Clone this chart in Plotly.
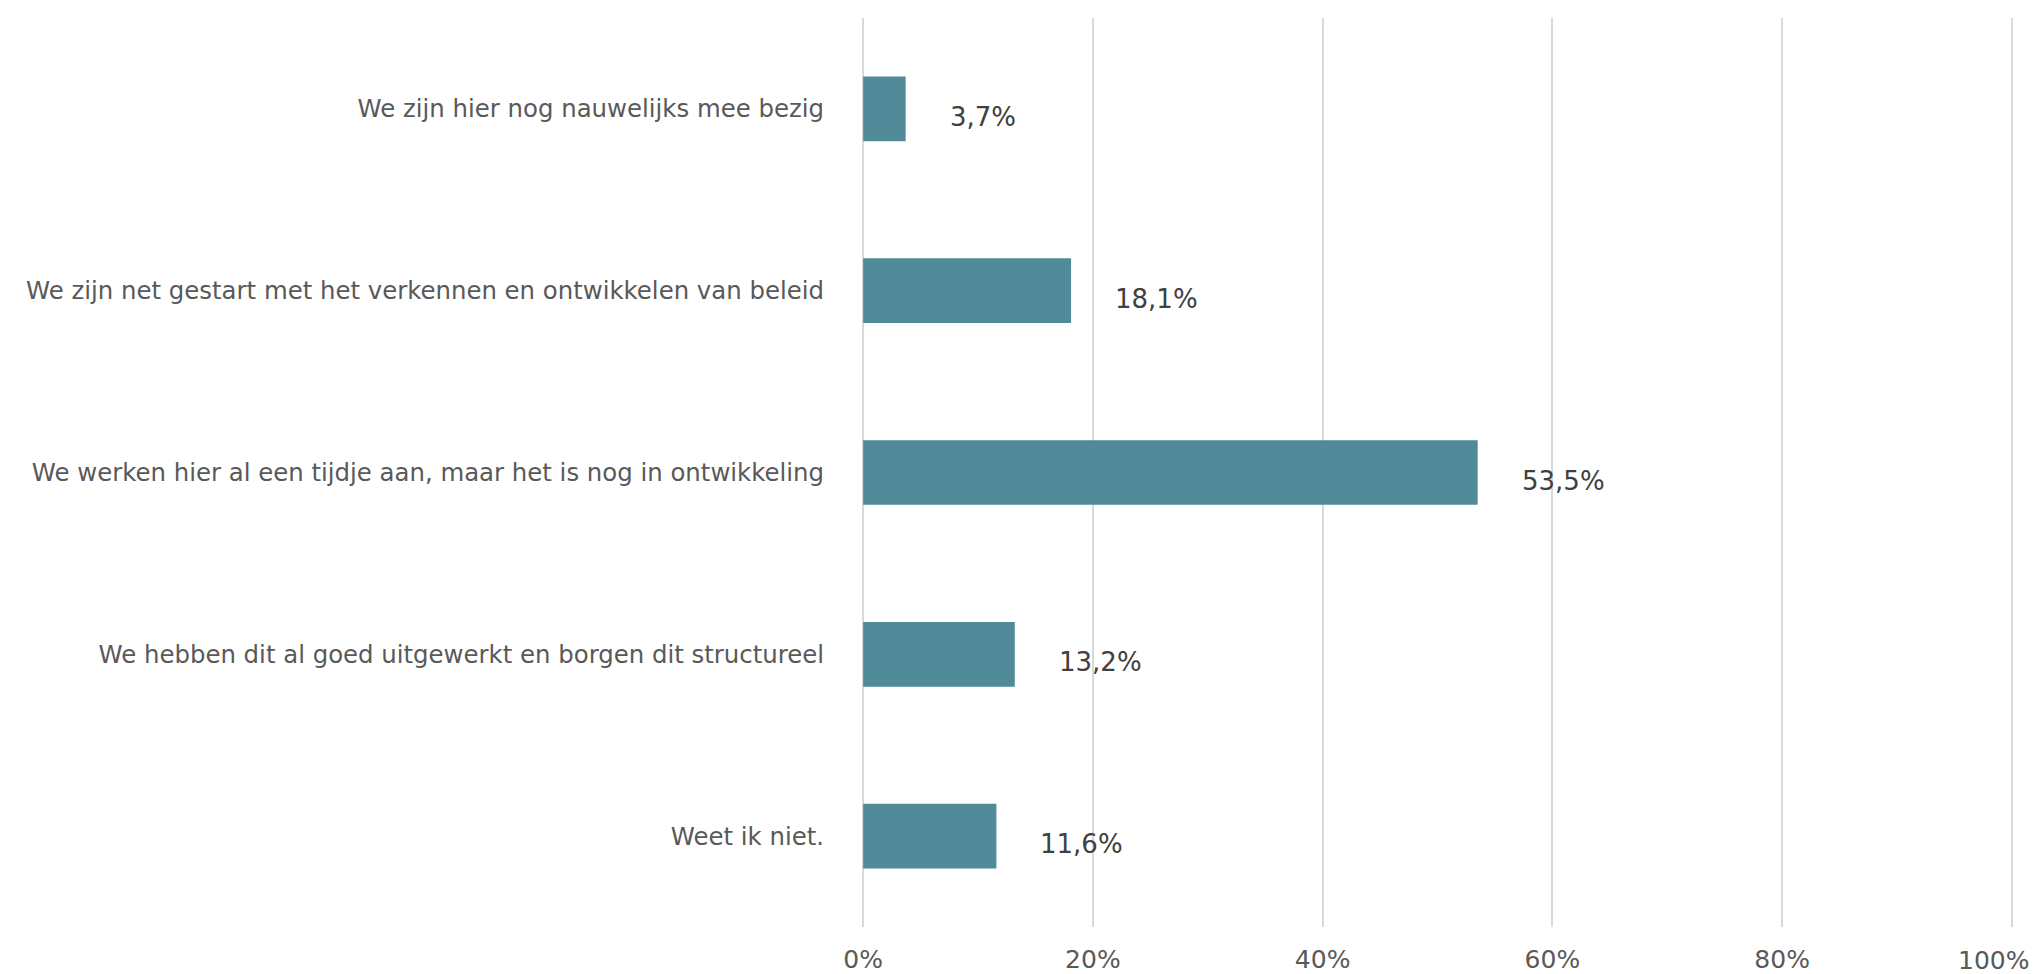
import plotly.graph_objects as go

# Survey answers (top to bottom) and their share of respondents, in percent
categories = [
    "We zijn hier nog nauwelijks mee bezig",
    "We zijn net gestart met het verkennen en ontwikkelen van beleid",
    "We werken hier al een tijdje aan, maar het is nog in ontwikkeling",
    "We hebben dit al goed uitgewerkt en borgen dit structureel",
    "Weet ik niet.",
]
shares = [3.7, 18.1, 53.5, 13.2, 11.6]

tick_values = [0, 20, 40, 60, 80, 100]
tick_labels = ["0%", "20%", "40%", "60%", "80%", "100%"]

FONT = "DejaVu Sans"
BAR_COLOR = "#518A99"
GRID_COLOR = "#D9D9D9"
TICK_FONT = dict(family=FONT, size=25, color="#595959")


def nl_percent(v):
    return f"{v:.1f}".replace(".", ",") + "%"


fig = go.Figure(
    go.Bar(
        x=shares,
        y=categories,
        orientation="h",
        width=0.356,
        marker=dict(color=BAR_COLOR, line=dict(width=0)),
        hoverinfo="skip",
    )
)

# value labels to the right of each bar
for cat, v in zip(categories, shares):
    fig.add_annotation(
        x=v,
        y=cat,
        text=nl_percent(v),
        showarrow=False,
        xanchor="left",
        yanchor="middle",
        xshift=42,
        yshift=-8,
        font=dict(family=FONT, size=26, color="#404040"),
    )

# the last tick label is pulled left so it stays inside the page
tick_text = tick_labels[:-1] + [""]
fig.add_annotation(
    x=tick_values[-1],
    y=0,
    xref="x",
    yref="paper",
    text=tick_labels[-1],
    showarrow=False,
    xanchor="center",
    yanchor="middle",
    xshift=-18,
    yshift=-33,
    font=TICK_FONT,
)

fig.update_layout(
    width=2034,
    height=974,
    margin=dict(l=862, r=21, t=18, b=47, autoexpand=False),
    paper_bgcolor="white",
    plot_bgcolor="white",
    showlegend=False,
    bargap=0.644,
    xaxis=dict(
        range=[-0.1, 100.1],
        tickvals=tick_values,
        ticktext=tick_text,
        showgrid=True,
        gridcolor=GRID_COLOR,
        gridwidth=2,
        zeroline=False,
        showline=False,
        ticks="",
        ticklabelstandoff=15,
        automargin=False,
        tickfont=TICK_FONT,
        fixedrange=True,
    ),
    yaxis=dict(
        categoryorder="array",
        categoryarray=categories,
        autorange="reversed",
        showgrid=False,
        zeroline=False,
        showline=False,
        ticks="",
        ticklabelstandoff=37,
        automargin=False,
        tickfont=dict(family=FONT, size=24.4, color="#595959"),
        fixedrange=True,
    ),
)

fig.write_html("out.html", config={"displayModeBar": False})
